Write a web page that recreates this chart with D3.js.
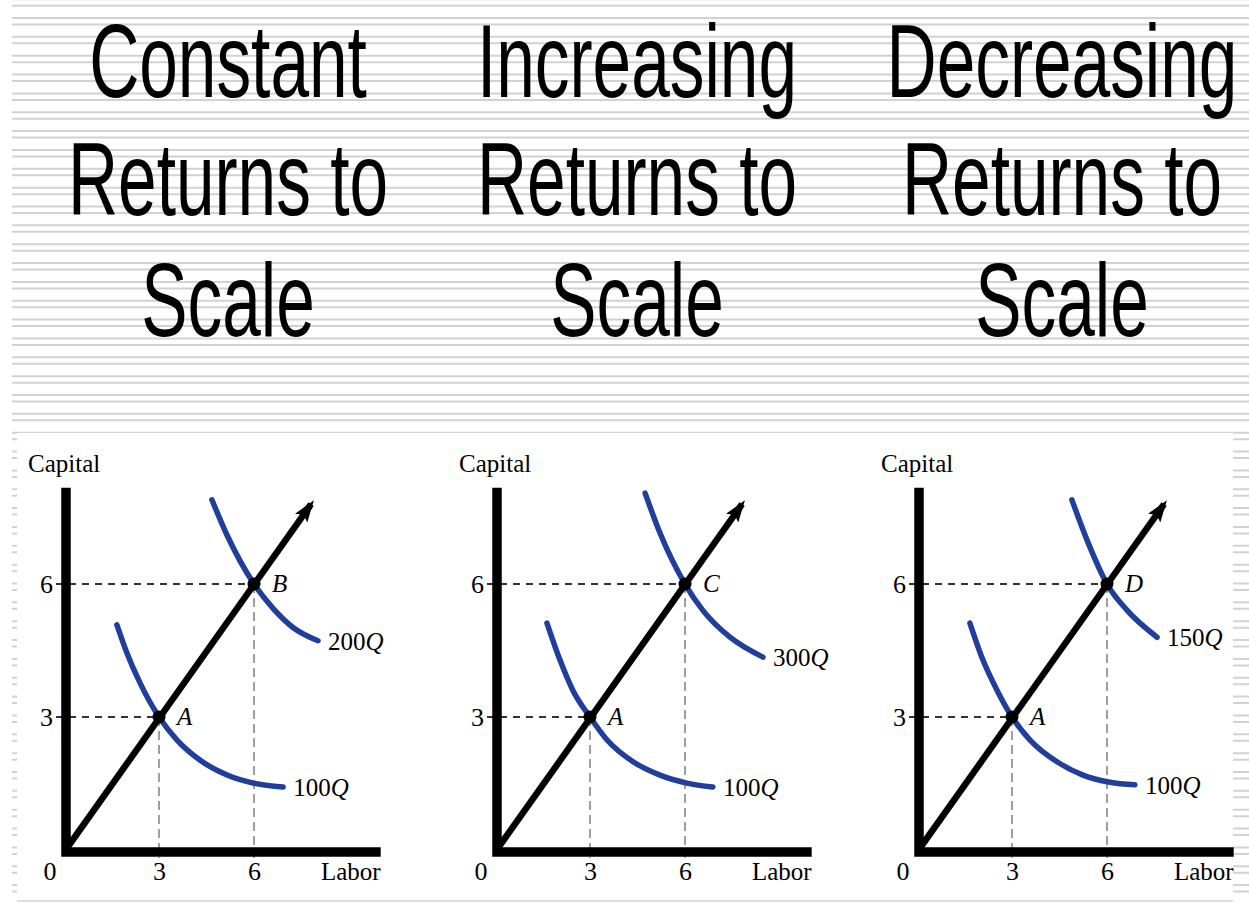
<!DOCTYPE html>
<html>
<head>
<meta charset="utf-8">
<script src="https://cdn.jsdelivr.net/npm/d3@7"></script>
<style>
html, body { margin: 0; padding: 0; background: #fff; overflow: hidden; }
</style>
</head>
<body>
<div id="chart"></div>
<script>
// title text, one column per panel
let titleLines = [
	['Constant', 'Returns to', 'Scale'],
	['Increasing', 'Returns to', 'Scale'],
	['Decreasing', 'Returns to', 'Scale'],
]
let pointNames = ['B', 'C', 'D']
let lowOutput = '100'
let highOutput = ['200', '300', '150']
let tickValues = [3, 6]
let baseInput = 3
let doubledInput = 6
let rayEnd = [7.8, 7.8]

// isoquants, [labor, capital]
let lowIsoquants = [
	[[1.67, 5.08], [1.99, 4.44], [2.4, 3.77], [3.0, 3.0], [3.57, 2.48], [4.29, 2.03], [5.15, 1.69], [5.97, 1.51], [6.92, 1.42]],
	[[1.64, 5.12], [2.05, 4.29], [2.46, 3.6], [3.0, 3.0], [3.54, 2.48], [4.36, 1.99], [5.21, 1.69], [6.06, 1.51], [6.88, 1.42]],
	[[1.67, 5.12], [2.08, 4.29], [2.53, 3.6], [3.0, 3.0], [3.57, 2.48], [4.42, 1.99], [5.24, 1.69], [6.09, 1.53], [6.88, 1.47]],
]
let highIsoquants = [
	[[4.67, 7.9], [5.15, 7.1], [6.0, 6.0], [6.6, 5.45], [7.23, 5.02], [8.02, 4.72]],
	[[4.74, 8.05], [5.21, 7.15], [6.0, 6.0], [6.57, 5.4], [7.42, 4.8], [8.46, 4.35]],
	[[4.89, 7.9], [5.37, 6.99], [6.0, 6.0], [6.63, 5.41], [7.58, 4.8]],
]

let width = 1249
let height = 903
let titleX = [228, 637, 1062]
let titleBase = [97, 215, 336]
let originX = [64, 495, 917]
let originY = 850
let unitX = 31.67
let unitY = 44.33
let blue = '#203f9c'
let serif = '"Liberation Serif", "Times New Roman", serif'
let sans = '"Liberation Sans", Arial, sans-serif'

let svg = d3
	.select('#chart')
	.append('svg:svg')
	.attr('width', width)
	.attr('height', height)

// striped slide background
let stripes = svg.append('g')
d3.range(-0.85, height, 18.85).forEach(y0 => {
	;[y0, y0 + 6.5].forEach(y => {
		stripes
			.append('line')
			.attr('x1', 12)
			.attr('x2', width)
			.attr('y1', y)
			.attr('y2', y)
			.attr('stroke', '#d2d2d2')
			.attr('stroke-width', 2)
	})
})

// titles, squeezed horizontally like the source
titleLines.forEach((lines, i) => {
	lines.forEach((t, j) => {
		svg
			.append('text')
			.attr('transform', `translate(${titleX[i]},${titleBase[j]}) scale(0.667,1)`)
			.attr('text-anchor', 'middle')
			.attr('font-family', sans)
			.attr('font-size', 104)
			.attr('fill', '#000')
			.text(t)
	})
})

// white picture area
svg
	.append('rect')
	.attr('x', 17)
	.attr('y', 433)
	.attr('width', 1216)
	.attr('height', 468)
	.attr('fill', '#fff')
svg
	.append('line')
	.attr('x1', 17)
	.attr('x2', 1233)
	.attr('y1', 901)
	.attr('y2', 901)
	.attr('stroke', '#ddd')
	.attr('stroke-width', 2)

let defs = svg.append('defs')
defs
	.append('marker')
	.attr('id', 'arrow')
	.attr('markerUnits', 'userSpaceOnUse')
	.attr('viewBox', '0 -8 22 16')
	.attr('refX', 17)
	.attr('refY', 0)
	.attr('markerWidth', 22)
	.attr('markerHeight', 16)
	.attr('orient', 'auto')
	.append('path')
	.attr('d', 'M0,-7.5L22,0L0,7.5L4,0Z')
	.attr('fill', '#000')

titleLines.forEach((_, i) => {
	let x = d3.scaleLinear().domain([0, 8]).range([originX[i], originX[i] + 8 * unitX])
	let y = d3.scaleLinear().domain([0, 8]).range([originY, originY - 8 * unitY])
	let g = svg.append('g')

	// dashed guides
	;[baseInput, doubledInput].forEach(v => {
		g.append('line')
			.attr('x1', x(0) - 8)
			.attr('x2', x(v))
			.attr('y1', y(v))
			.attr('y2', y(v))
			.attr('stroke', '#333')
			.attr('stroke-width', 1.8)
			.attr('stroke-dasharray', '7,6')
		g.append('line')
			.attr('x1', x(v))
			.attr('x2', x(v))
			.attr('y1', y(v))
			.attr('y2', y(0) + 8)
			.attr('stroke', '#777')
			.attr('stroke-width', 1.4)
			.attr('stroke-dasharray', '9,5')
	})

	// axes
	g.append('path')
		.attr('d', `M${x(0) + 2},${y(8.17)}V${y(0) + 2}H${x(10)}`)
		.attr('fill', 'none')
		.attr('stroke', '#000')
		.attr('stroke-width', 9.5)
		.attr('stroke-linejoin', 'miter')

	// tick labels via d3 axes
	let xAxis = g
		.append('g')
		.attr('transform', `translate(0,${y(0)})`)
		.call(d3.axisBottom(x).tickValues(tickValues).tickSize(0).tickPadding(12))
	let yAxis = g
		.append('g')
		.attr('transform', `translate(${x(0)},0)`)
		.call(d3.axisLeft(y).tickValues(tickValues).tickSize(0).tickPadding(11))
	;[xAxis, yAxis].forEach(a => {
		a.select('.domain').remove()
		a.selectAll('text')
			.attr('font-family', serif)
			.attr('font-size', 26)
			.attr('fill', '#000')
	})

	g.append('text')
		.attr('x', x(0) - 14)
		.attr('y', y(0) + 30)
		.attr('text-anchor', 'middle')
		.attr('font-family', serif)
		.attr('font-size', 26)
		.text('0')
	g.append('text')
		.attr('x', x(10))
		.attr('y', y(0) + 30)
		.attr('text-anchor', 'end')
		.attr('font-family', serif)
		.attr('font-size', 25)
		.text('Labor')
	g.append('text')
		.attr('x', x(0) - 36)
		.attr('y', 472)
		.attr('font-family', serif)
		.attr('font-size', 25)
		.text('Capital')

	// expansion path
	g.append('line')
		.attr('x1', x(0) + 3)
		.attr('y1', y(0) - 2)
		.attr('x2', x(rayEnd[0]))
		.attr('y2', y(rayEnd[1]))
		.attr('stroke', '#000')
		.attr('stroke-width', 6.5)
		.attr('marker-end', 'url(#arrow)')

	// isoquants
	let line = d3
		.line()
		.x(d => x(d[0]))
		.y(d => y(d[1]))
		.curve(d3.curveMonotoneX)
	;[lowIsoquants[i], highIsoquants[i]].forEach((pts, k) => {
		g.append('path')
			.attr('d', line(pts))
			.attr('fill', 'none')
			.attr('stroke', blue)
			.attr('stroke-width', 5.5)
			.attr('stroke-linecap', 'round')
		let last = pts[pts.length - 1]
		let lab = g
			.append('text')
			.attr('x', x(last[0]) + 10)
			.attr('y', y(last[1]) + 9)
			.attr('font-family', serif)
			.attr('font-size', 25)
		lab.append('tspan').text(k == 0 ? lowOutput : highOutput[i])
		lab.append('tspan').attr('font-style', 'italic').text('Q')
	})

	// points
	;[[baseInput, 'A'], [doubledInput, pointNames[i]]].forEach(([v, name]) => {
		g.append('circle')
			.attr('cx', x(v))
			.attr('cy', y(v))
			.attr('r', 6.5)
			.attr('fill', '#000')
		g.append('text')
			.attr('x', x(v) + 18)
			.attr('y', y(v) + 8)
			.attr('font-family', serif)
			.attr('font-style', 'italic')
			.attr('font-size', 25)
			.text(name)
	})
})
</script>
</body>
</html>
